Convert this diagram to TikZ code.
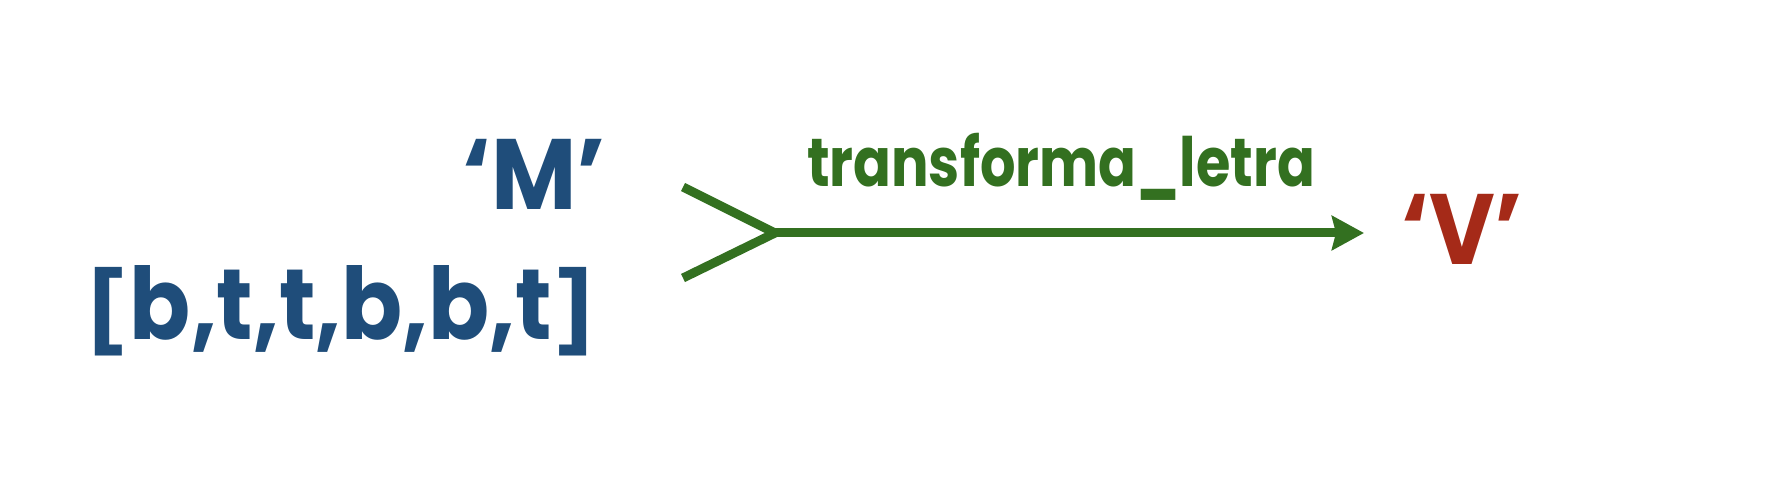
\documentclass[tikz,border=0pt]{standalone}
\usepackage{fontspec}
\setmainfont{Poppins}
\usetikzlibrary{arrows.meta}
\definecolor{blu}{RGB}{31,77,122}
\definecolor{grn}{RGB}{51,112,32}
\definecolor{rd}{RGB}{165,42,24}
\newcommand{\shortbr}[1]{\scalebox{1}[0.79]{#1}}
\begin{document}
\begin{tikzpicture}[x=1pt,y=-1pt,
  txt/.style={inner sep=0pt,outer sep=0pt,anchor=base west,font=\fontsize{100}{100}\selectfont\bfseries},
  lbl/.style={inner sep=0pt,outer sep=0pt,anchor=base west,font=\fontsize{68}{68}\selectfont\bfseries,text=grn},
  conn/.style={draw=grn,line width=9pt},
]
\useasboundingbox (0,0) rectangle (1778,486);
\node[txt,text=blu] (m) at (462,210) {\scalebox{0.93}[1]{‘M’}};
\node[txt,text=blu] (lst) at (84,340) {\scalebox{0.90}[1]{\shortbr{[}b,t,t,b,b,t\shortbr{]}}};
\node[txt,text=rd] (v) at (1401,265) {\scalebox{0.90}[1]{‘V’}};
\node[lbl] (lab) at (807,187) {\scalebox{0.82}[1]{transforma\_letra}};
\coordinate (c1) at (683,187);
\coordinate (c2) at (683,278);
\coordinate (vx) at (775,233);
\coordinate (tip) at (1364,233);
\draw[conn] (c1) -- (vx) -- (c2);
\draw[conn,-{Stealth[length=32pt,width=34pt,inset=4pt]}] (vx) -- (tip);
\end{tikzpicture}
\end{document}
